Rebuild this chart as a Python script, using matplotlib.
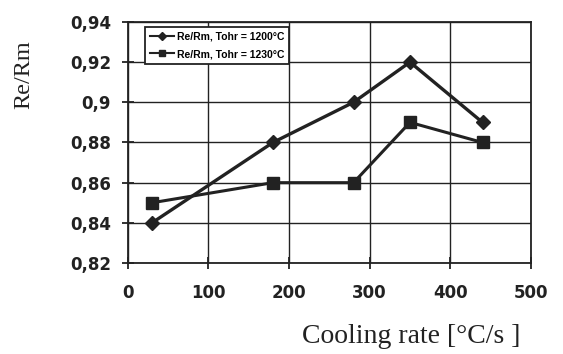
import matplotlib
matplotlib.use("Agg")
import matplotlib.pyplot as plt

x1 = [30, 180, 280, 350, 440]
y1 = [0.84, 0.88, 0.90, 0.92, 0.89]
x2 = [30, 180, 280, 350, 440]
y2 = [0.85, 0.86, 0.86, 0.89, 0.88]
xticks = [0, 100, 200, 300, 400, 500]
yticks = [0.82, 0.84, 0.86, 0.88, 0.90, 0.92, 0.94]
ylabels = ["0,82", "0,84", "0,86", "0,88", "0,9", "0,92", "0,94"]
labels = ["Re/Rm, Tohr = 1200°C", "Re/Rm, Tohr = 1230°C"]

fig = plt.figure(figsize=(5.63, 3.54), dpi=100)
ax = fig.add_axes([0.227, 0.257, 0.716, 0.681])
ax.plot(x1, y1, color="#222222", lw=2.4, marker="D", ms=7, label=labels[0])
ax.plot(x2, y2, color="#222222", lw=2.2, marker="s", ms=8, label=labels[1])
ax.set_xlim(0, 500)
ax.set_ylim(0.82, 0.94)
ax.set_xticks(xticks)
ax.set_xticklabels([str(v) for v in xticks])
ax.set_yticks(yticks)
ax.set_yticklabels(ylabels)
ax.grid(True, color="#222222", lw=1.0)
for s in ax.spines.values():
    s.set_linewidth(1.3)
    s.set_color("#222222")
ax.tick_params(direction="inout", length=8, width=1.3, color="#222222")
ax.tick_params(axis="x", pad=11)
ax.tick_params(axis="y", pad=8)
for t in ax.get_xticklabels() + ax.get_yticklabels():
    t.set_fontfamily("DejaVu Sans")
    t.set_fontweight("bold")
    t.set_fontsize(12)
    t.set_color("#222222")
ax.set_ylabel("Re/Rm", fontfamily="Liberation Serif", fontsize=17.5, color="#222222")
ax.yaxis.set_label_coords(-0.233, 0.78)
ax.set_xlabel("Cooling rate [°C/s ]", fontfamily="Liberation Serif", fontsize=20, color="#222222")
ax.xaxis.set_label_coords(0.702, -0.255)
leg = ax.legend(loc="upper left", bbox_to_anchor=(0.03, 1.0),
                prop={"family": "Liberation Sans", "weight": "bold", "size": 7.5},
                frameon=True, fancybox=False, edgecolor="#222222", framealpha=1,
                handlelength=2.3, handletextpad=0.3, borderpad=0.45, labelspacing=0.7)
leg.get_frame().set_linewidth(1.3)
for h in leg.legend_handles:
    h.set_markersize(4)
    h.set_linewidth(1.5)
fig.savefig("out.png", dpi=100)
